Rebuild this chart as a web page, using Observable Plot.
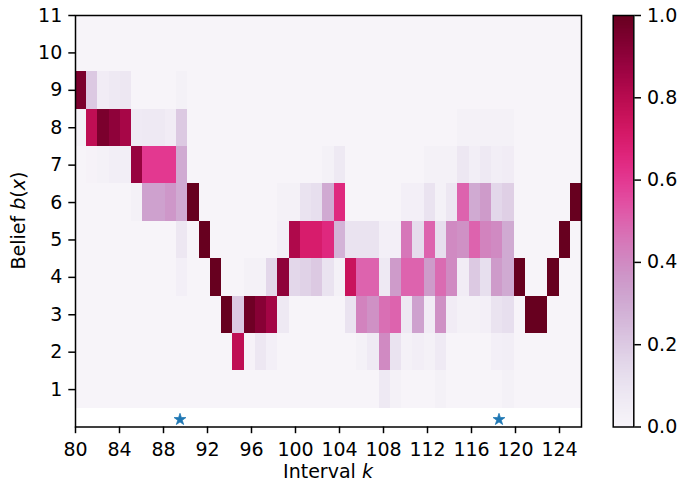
<!DOCTYPE html>
<html><head><meta charset="utf-8">
<script src="https://cdn.jsdelivr.net/npm/d3@7"></script>
<script src="https://cdn.jsdelivr.net/npm/@observablehq/plot@0.6"></script>
<style>
body{margin:0;background:#fff;}
#wrap{width:679px;height:482px;display:flex;}
#wrap svg{display:block;}
</style></head><body><div id="wrap"></div>
<script>
// imshow-style extent of the belief matrix: [x0, x1, y0, y1]
const extent = [80, 126, 0.5, 11.5];
const xTicks = [80, 84, 88, 92, 96, 100, 104, 108, 112, 116, 120, 124];
const yTicks = [1, 2, 3, 4, 5, 6, 7, 8, 9, 10, 11];
const cbarTicks = [0, 0.2, 0.4, 0.6, 0.8, 1.0];
const starX = [89.5, 118.5];
const starY = [0.2, 0.2];

// belief rows b(x)=1..11, 45 columns each
const b1  = [0,0,0,0,0,0,0,0,0,0, 0,0,0,0,0,0,0,0,0,0, 0,0,0,0,0,0,0,0.07,0.02,0, 0,0,0.02,0,0,0,0,0,0.02,0, 0,0,0,0,0];
const b2  = [0,0,0,0,0,0,0,0,0,0, 0,0,0,0,0.78,0.01,0.08,0.03,0,0, 0,0,0,0,0,0.02,0.06,0.4,0.1,0.02, 0.04,0.02,0.06,0,0,0,0,0.03,0.04,0, 0,0,0,0,0];
const b3  = [0,0,0,0,0,0,0,0,0,0, 0,0,0,1.0,0.2,0.98,0.92,0.85,0.07,0, 0,0,0,0,0.1,0.42,0.38,0.47,0.5,0.07, 0.33,0.05,0.38,0.05,0.02,0.02,0.03,0.1,0.12,0, 1.0,1.0,0,0,0];
const b4  = [0,0,0,0,0,0,0,0,0,0.03, 0,0,1.0,0,0,0.02,0.02,0.15,0.9,0.15, 0.17,0.2,0.1,0.02,0.75,0.5,0.5,0.07,0.35,0.5, 0.5,0.35,0.48,0.4,0.05,0.2,0.12,0.35,0.3,1.0, 0,0,1.0,0,0];
const b5  = [0,0,0,0,0,0,0,0,0,0.08, 0,1.0,0,0,0,0,0,0,0.03,0.82, 0.7,0.7,0.65,0.27,0.1,0.1,0.1,0.03,0.03,0.45, 0.13,0.5,0.12,0.4,0.38,0.5,0.42,0.4,0.3,0, 0,0,0,1.0,0];
const b6  = [0,0,0,0,0,0.02,0.33,0.33,0.36,0.3, 1.0,0,0,0,0,0,0,0,0.02,0.02, 0.1,0.12,0.3,0.65,0,0,0,0,0,0.03, 0.03,0.1,0.02,0.08,0.5,0.3,0.35,0.15,0.18,0, 0,0,0,0,1.0];
const b7  = [0,0.01,0.02,0.04,0.04,0.88,0.6,0.6,0.6,0.3, 0,0,0,0,0,0,0,0,0,0, 0,0,0.02,0.07,0,0,0,0,0,0, 0,0.02,0.02,0.02,0.08,0.04,0.07,0.04,0.05,0, 0,0,0,0,0];
const b8  = [0.02,0.78,0.95,0.9,0.84,0.06,0.07,0.07,0.05,0.2, 0,0,0,0,0,0,0,0,0,0, 0,0,0,0,0,0,0,0,0,0, 0,0,0,0,0.02,0.02,0.02,0.02,0.02,0, 0,0,0,0,0];
const b9  = [0.95,0.2,0.05,0.07,0.08,0,0,0,0,0.02, 0,0,0,0,0,0,0,0,0,0, 0,0,0,0,0,0,0,0,0,0, 0,0,0,0,0,0,0,0,0,0, 0,0,0,0,0];
const b10 = new Array(45).fill(0);
const b11 = new Array(45).fill(0);
const beliefRows = [b1, b2, b3, b4, b5, b6, b7, b8, b9, b10, b11];

const nCols = b1.length, nRows = beliefRows.length;
const cw = (extent[1] - extent[0]) / nCols, ch = (extent[3] - extent[2]) / nRows;
const cells = [];
beliefRows.forEach((row, r) => row.forEach((v, i) => cells.push({
  x1: extent[0] + i * cw, x2: extent[0] + (i + 1) * cw,
  y1: extent[2] + r * ch, y2: extent[2] + (r + 1) * ch, v
})));
const starData = starX.map((x, i) => ({x, y: starY[i]}));

const FONT = "DejaVu Sans", FS = 19, LW = 1.5, TL = 6.7;

const main = Plot.plot({
  width: 600, height: 482,
  marginLeft: 75, marginRight: 19, marginTop: 15, marginBottom: 55.5,
  style: {fontFamily: FONT, fontSize: FS + "px", color: "#000", background: "transparent", overflow: "visible"},
  x: {domain: [80, 126]},
  y: {domain: [0, 11]},
  color: {type: "linear", scheme: "PuRd", domain: [0, 1]},
  marks: [
    Plot.rect(cells, {x1: "x1", x2: "x2", y1: "y1", y2: "y2", fill: "v", clip: true, shapeRendering: "crispEdges"}),
    Plot.dot(starData, {x: "x", y: "y", symbol: "star", fill: "#1f77b4", stroke: "#1f77b4", strokeWidth: 0.8, r: 3.7}),
    Plot.axisX({ticks: xTicks, tickSize: TL, tickPadding: 9, strokeWidth: LW, label: null, fontSize: FS}),
    Plot.axisY({ticks: yTicks, tickSize: TL, tickPadding: 6.5, strokeWidth: LW, label: null, fontSize: FS}),
    Plot.frame({stroke: "#000", strokeWidth: LW})
  ]
});

const ramp = d3.range(256).map(i => ({lo: i / 256, hi: (i + 1) / 256, mid: (i + 0.5) / 256}));
const cbar = Plot.plot({
  width: 79, height: 482,
  marginLeft: 12.7, marginRight: 45.7, marginTop: 15, marginBottom: 55.5,
  style: {fontFamily: FONT, fontSize: FS + "px", color: "#000", background: "transparent", overflow: "visible"},
  x: {domain: [0, 1], axis: null},
  y: {domain: [0, 1]},
  color: {type: "linear", scheme: "PuRd", domain: [0, 1]},
  marks: [
    Plot.rect(ramp, {x1: () => 0, x2: () => 1, y1: "lo", y2: "hi", fill: "mid", shapeRendering: "crispEdges"}),
    Plot.axisY({anchor: "right", ticks: cbarTicks, tickFormat: d3.format(".1f"), tickSize: TL, tickPadding: 6.5, strokeWidth: LW, label: null, fontSize: FS}),
    Plot.frame({stroke: "#000", strokeWidth: LW})
  ]
});

document.getElementById("wrap").append(main, cbar);

// axis titles with mathtext-like italics
const svg = d3.select(main);
const xl = svg.append("text").attr("x", 328).attr("y", 477.5)
  .attr("text-anchor", "middle").attr("font-family", FONT).attr("font-size", FS).attr("fill", "#000");
xl.append("tspan").text("Interval ");
xl.append("tspan").attr("font-style", "italic").text("k");
const yl = svg.append("text").attr("transform", "translate(24.5,220.5) rotate(-90)")
  .attr("text-anchor", "middle").attr("font-family", FONT).attr("font-size", FS).attr("fill", "#000");
yl.append("tspan").text("Belief ");
yl.append("tspan").attr("font-style", "italic").text("b");
yl.append("tspan").text("(");
yl.append("tspan").attr("font-style", "italic").text("x");
yl.append("tspan").text(")");
</script></body></html>
